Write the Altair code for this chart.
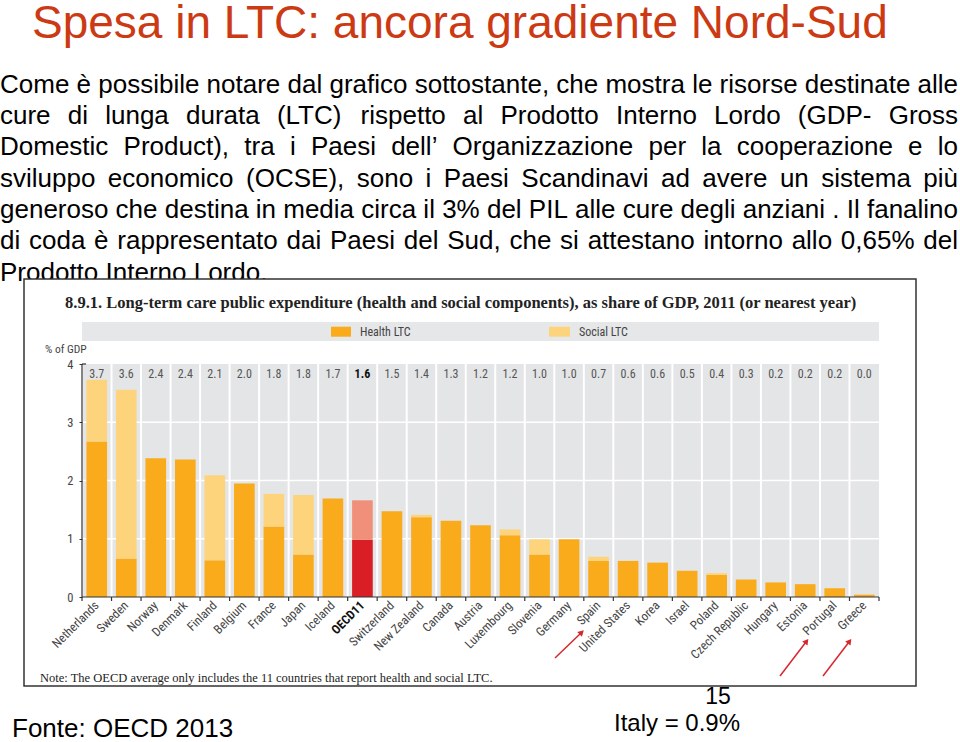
import altair as alt
import pandas as pd

# ---------------- data ----------------
countries = ["Netherlands", "Sweden", "Norway", "Denmark", "Finland", "Belgium", "France",
             "Japan", "Iceland", "OECD11", "Switzerland", "New Zealand", "Canada", "Austria",
             "Luxembourg", "Slovenia", "Germany", "Spain", "United States", "Korea", "Israel",
             "Poland", "Czech Republic", "Hungary", "Estonia", "Portugal", "Greece"]
health = [2.67, 0.66, 2.38, 2.36, 0.63, 1.95, 1.21, 0.73, 1.69, 0.98, 1.47, 1.37, 1.31, 1.23,
          1.06, 0.73, 0.99, 0.62, 0.62, 0.59, 0.45, 0.38, 0.30, 0.25, 0.22, 0.15, 0.04]
social = [1.06, 2.90, 0.0, 0.0, 1.46, 0.0, 0.56, 1.02, 0.0, 0.68, 0.0, 0.04, 0.0, 0.0,
          0.10, 0.26, 0.0, 0.07, 0.0, 0.0, 0.0, 0.03, 0.0, 0.0, 0.0, 0.0, 0.0]
total_labels = ["3.7", "3.6", "2.4", "2.4", "2.1", "2.0", "1.8", "1.8", "1.7", "1.6", "1.5", "1.4",
                "1.3", "1.2", "1.2", "1.0", "1.0", "0.7", "0.6", "0.6", "0.5", "0.4", "0.3", "0.2",
                "0.2", "0.2", "0.0"]
y_ticks = [0, 1, 2, 3, 4]
grid_values = [1, 2, 3]

slide_title = "Spesa in LTC: ancora gradiente Nord-Sud"
paragraph = [
    "Come è possibile notare dal grafico sottostante, che mostra le risorse destinate alle",
    "cure di lunga durata (LTC) rispetto al Prodotto Interno Lordo (GDP- Gross",
    "Domestic Product), tra i Paesi dell’ Organizzazione per la cooperazione e lo",
    "sviluppo economico (OCSE), sono i Paesi Scandinavi ad avere un sistema più",
    "generoso che destina in media circa il 3% del PIL alle cure degli anziani . Il fanalino",
    "di coda è rappresentato dai Paesi del Sud, che si attestano intorno allo 0,65% del",
    "Prodotto Interno Lordo.",
]
chart_title = ("8.9.1. Long-term care public expenditure (health and social components), "
               "as share of GDP, 2011 (or nearest year)")
note = "Note: The OECD average only includes the 11 countries that report health and social LTC."

# ---------------- styling ----------------
W, H = 797, 233
C_HEALTH, C_SOCIAL = "#F9AB1B", "#FDD47B"
C_HEALTH_O, C_SOCIAL_O = "#D91E26", "#F1907A"
PLOT_BG = "#E4E5E7"
NARROW = "Liberation Sans Narrow, Roboto Condensed, Roboto, sans-serif"
SANS = "Liberation Sans, Arial, sans-serif"
SERIF = "Liberation Serif, DejaVu Serif, serif"

# Arial / Liberation Sans advance widths (per 1000 em) for justified paragraph layout
ADV = {" ": 278, "%": 889, "(": 333, ")": 333, ",": 278, "-": 333, ".": 278, "’": 222,
       "0": 556, "1": 556, "2": 556, "3": 556, "4": 556, "5": 556, "6": 556, "7": 556,
       "8": 556, "9": 556, "A": 667, "B": 667, "C": 722, "D": 722, "E": 667, "F": 611,
       "G": 778, "H": 722, "I": 278, "L": 556, "M": 833, "N": 722, "O": 778, "P": 667,
       "S": 667, "T": 611, "a": 556, "b": 556, "c": 500, "d": 556, "e": 556, "f": 278,
       "g": 556, "h": 556, "i": 222, "j": 222, "k": 500, "l": 222, "m": 833, "n": 556,
       "o": 556, "p": 556, "q": 556, "r": 333, "s": 500, "t": 278, "u": 556, "v": 500,
       "w": 722, "x": 500, "y": 500, "z": 500, "è": 556, "ù": 556, "à": 556}
PFONT = 26
LEFT, RIGHT = -82, 876


def wwidth(word):
    return sum(ADV.get(ch, 556) for ch in word) * PFONT / 1000.0


rows = []
for i, c in enumerate(countries):
    o = c == "OECD11"
    rows.append({"country": c, "part": "Health", "ord": 0, "value": health[i],
                 "key": "HO" if o else "H"})
    rows.append({"country": c, "part": "Social", "ord": 1, "value": social[i],
                 "key": "SO" if o else "S"})
bars_df = pd.DataFrame(rows)
lab_df = pd.DataFrame({"country": countries, "label": total_labels})
cdf = pd.DataFrame({"country": countries})
one = pd.DataFrame({"a": [0]})

# justified paragraph words
baselines = [-271.3, -240, -208.7, -177.4, -146, -114.7, -83.4]
wrows = []
for li, (line, b) in enumerate(zip(paragraph, baselines)):
    words = line.split(" ")
    if li == len(paragraph) - 1:
        wrows.append({"w": line, "px": LEFT, "py": b})
        continue
    widths = [wwidth(w) for w in words]
    gap = (RIGHT - LEFT - sum(widths)) / (len(words) - 1)
    xpos = LEFT
    for w, wd in zip(words, widths):
        wrows.append({"w": w, "px": xpos, "py": b})
        xpos += wd + gap
words_df = pd.DataFrame(wrows)

xscale = alt.Scale(paddingInner=0, paddingOuter=0)
yscale = alt.Scale(domain=[0, 4], nice=False)

XAXIS = alt.Axis(title=None, labelAngle=-45, labelAlign="right", labelBaseline="middle",
                 labelFontSize=12.5, labelFont=NARROW, labelPadding=6,
                 ticks=False, domain=False, grid=False, zindex=2,
                 labelFontWeight=alt.expr("datum.value == 'OECD11' ? 'bold' : 'normal'"),
                 labelColor=alt.expr("datum.value == 'OECD11' ? '#111' : '#444'"))
YAXIS = alt.Axis(title=None, values=y_ticks, grid=False, domain=False, tickSize=3,
                 tickColor="#333", labelFontSize=12.5, labelFont=NARROW, labelColor="#444",
                 labelPadding=6, zindex=2)


def xenc(**kw):
    return alt.X("country:N", sort=countries, scale=xscale, axis=XAXIS, **kw)


def text_layer(txt, x, y, size, color="black", font=SANS, weight="normal", align="left",
               baseline="alphabetic"):
    return alt.Chart(one).mark_text(
        text=txt, fontSize=size, font=font, color=color, fontWeight=weight,
        align=align, baseline=baseline
    ).encode(x=alt.value(x), y=alt.value(y))


def rect_layer(x, x2, y, y2, fill, stroke=None, sw=0):
    kw = dict(fill=fill)
    if stroke:
        kw.update(stroke=stroke, strokeWidth=sw)
    return alt.Chart(one).mark_rect(**kw).encode(
        x=alt.value(x), x2=alt.value(x2), y=alt.value(y), y2=alt.value(y2))


def seg_layer(x, x2, y, y2, color, sw):
    return alt.Chart(one).mark_rule(color=color, strokeWidth=sw).encode(
        x=alt.value(x), x2=alt.value(x2), y=alt.value(y), y2=alt.value(y2))


layers = []

# slide title + paragraph
layers.append(text_layer(slide_title, -50, -326, 46, color="#CC3A14"))
layers.append(alt.Chart(words_df).mark_text(
    fontSize=PFONT, font=SANS, color="black", align="left", baseline="alphabetic",
    x=alt.expr("datum.px"), y=alt.expr("datum.py")).encode(text="w:N"))

# image box
layers.append(rect_layer(-58, 834, -85, 322, "white", "#333333", 1.5))
# chart title
layers.append(text_layer(chart_title, -17, -56, 16.5, color="#222", font=SERIF, weight="bold"))
# legend band
layers.append(rect_layer(0, 797, -42, -23, "#E6E7E9"))
layers.append(rect_layer(249, 269, -37.3, -27.3, C_HEALTH))
layers.append(text_layer("Health LTC", 278, -32.5, 12, color="#444", font=NARROW,
                         baseline="middle"))
layers.append(rect_layer(467, 488, -37.3, -27.3, C_SOCIAL))
layers.append(text_layer("Social LTC", 497, -32.5, 12, color="#444", font=NARROW,
                         baseline="middle"))
layers.append(text_layer("% of GDP", -37, -11, 11.5, color="#444", font=NARROW))

# plot background
layers.append(rect_layer(0, W, 0, H, PLOT_BG))

# horizontal white grid lines
layers.append(alt.Chart(pd.DataFrame({"g": grid_values})).mark_rule(
    color="white", strokeWidth=1.5).encode(
    y=alt.Y("g:Q", scale=yscale, axis=YAXIS),
    x=alt.value(0), x2=alt.value(W)))

# vertical white separators between bands
layers.append(alt.Chart(cdf).mark_rule(color="white", strokeWidth=2).encode(
    x=xenc(bandPosition=0), y=alt.value(0), y2=alt.value(H)))

# stacked bars
layers.append(alt.Chart(bars_df).mark_bar(width=alt.RelativeBandSize(0.7)).encode(
    x=xenc(),
    y=alt.Y("value:Q", stack="zero", scale=yscale, axis=YAXIS),
    color=alt.Color("key:N", scale=alt.Scale(domain=["H", "S", "HO", "SO"],
                                            range=[C_HEALTH, C_SOCIAL, C_HEALTH_O, C_SOCIAL_O]),
                    legend=None),
    order=alt.Order("ord:Q"),
))

# value labels on top row
layers.append(alt.Chart(lab_df).mark_text(
    fontSize=12, font=NARROW, baseline="middle",
    color=alt.expr("datum.country == 'OECD11' ? '#111' : '#555'"),
    fontWeight=alt.expr("datum.country == 'OECD11' ? 'bold' : 'normal'")).encode(
    x=xenc(), y=alt.value(10), text="label:N"))

# axis lines and ticks
layers.append(seg_layer(0, W, H, H, "#333", 1.2))
layers.append(seg_layer(0, 0, 0, H, "#333", 1.2))
layers.append(seg_layer(0, 4, 0, 0, "#333", 1.2))
layers.append(alt.Chart(cdf).mark_rule(color="#333", strokeWidth=1.2).encode(
    x=xenc(bandPosition=0), y=alt.value(H), y2=alt.value(H + 4)))
layers.append(seg_layer(W, W, H, H + 4, "#333", 1.2))

# note
layers.append(text_layer(note, -42, 318, 12.5, color="#222", font=SERIF))

# red arrows
RED = "#D7262D"
arrows = [(473, 294, 499, 269, 46), (698, 312, 724, 278, 37), (741, 312, 767, 278, 37)]
for x1, y1, x2, y2, ang in arrows:
    layers.append(seg_layer(x1, x2, y1, y2, RED, 1.5))
    layers.append(alt.Chart(one).mark_point(shape="triangle", filled=True, size=45,
                                            angle=ang, color=RED, opacity=1).encode(
        x=alt.value(x2), y=alt.value(y2)))

# bottom slide texts
layers.append(text_layer("15", 636, 340, 23, align="center"))
layers.append(text_layer("Italy = 0.9%", 595, 367, 24, align="center"))
layers.append(text_layer("Fonte: OECD 2013", -70, 373, 26))

chart = alt.layer(*layers).properties(
    width=W, height=H,
    padding={"left": 82, "top": 364, "right": 81, "bottom": 145},
    autosize=alt.AutoSizeParams(type="none"),
    background="white",
).configure_view(stroke=None, fill=None)

chart.save("out.html", embed_options={"renderer": "svg", "actions": False})
